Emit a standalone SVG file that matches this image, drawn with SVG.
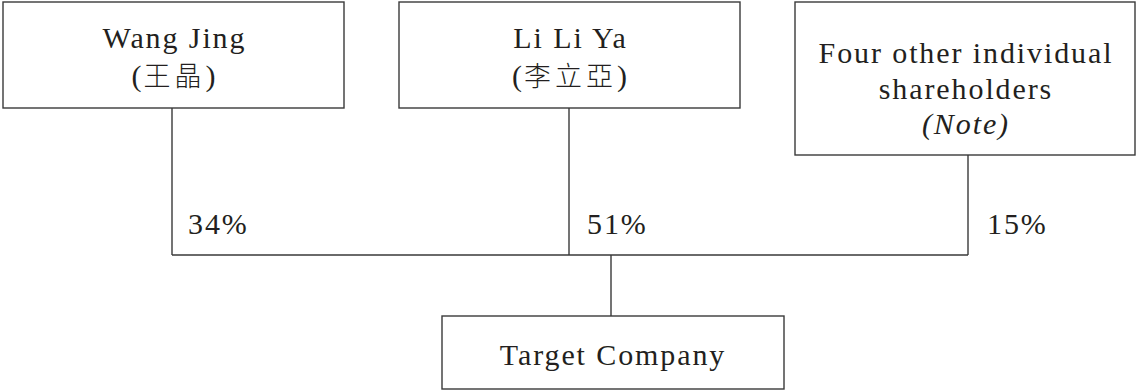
<svg xmlns="http://www.w3.org/2000/svg" width="1137" height="390" viewBox="0 0 1137 390">
<style>
.box{fill:#fff;stroke:#3a3a3a;stroke-width:1.4}
.t{font-family:"Liberation Serif","Noto Sans CJK TC",serif;font-size:30px;letter-spacing:1.9px;fill:#231f20;text-anchor:middle}
.p{font-family:"Liberation Serif",serif;font-size:30px;letter-spacing:1.9px;fill:#231f20}
.c{font-family:"Noto Sans CJK TC",sans-serif;font-size:27px;letter-spacing:4px;font-weight:300}
.ln{stroke:#3a3a3a;stroke-width:1.4;fill:none}
</style>
<rect width="1137" height="390" fill="#fff"/>
<g id="connectors">
<path class="ln" d="M172,108V255M569,108V255M968,155V255M172,255H968M611,255V316"/>
<text class="p" x="188" y="234">34%</text>
<text class="p" x="587" y="234">51%</text>
<text class="p" x="987" y="234">15%</text>
</g>
<g id="wang-jing">
<rect class="box" x="3" y="2" width="341" height="106"/>
<text class="t" x="174.5" y="48">Wang Jing</text>
<text class="t" x="174.5" y="86">(<tspan class="c">王晶</tspan>)</text>
</g>
<g id="li-li-ya">
<rect class="box" x="399" y="2" width="341" height="106"/>
<text class="t" x="570.5" y="48">Li Li Ya</text>
<text class="t" x="570.5" y="86">(<tspan class="c">李立亞</tspan>)</text>
</g>
<g id="four-other">
<rect class="box" x="795" y="2" width="340" height="153"/>
<text class="t" x="966" y="63">Four other individual</text>
<text class="t" x="966" y="99">shareholders</text>
<text class="t" x="966" y="134" font-style="italic">(Note)</text>
</g>
<g id="target-company">
<rect class="box" x="442" y="316" width="342" height="73"/>
<text class="t" x="613" y="365">Target Company</text>
</g>
</svg>
